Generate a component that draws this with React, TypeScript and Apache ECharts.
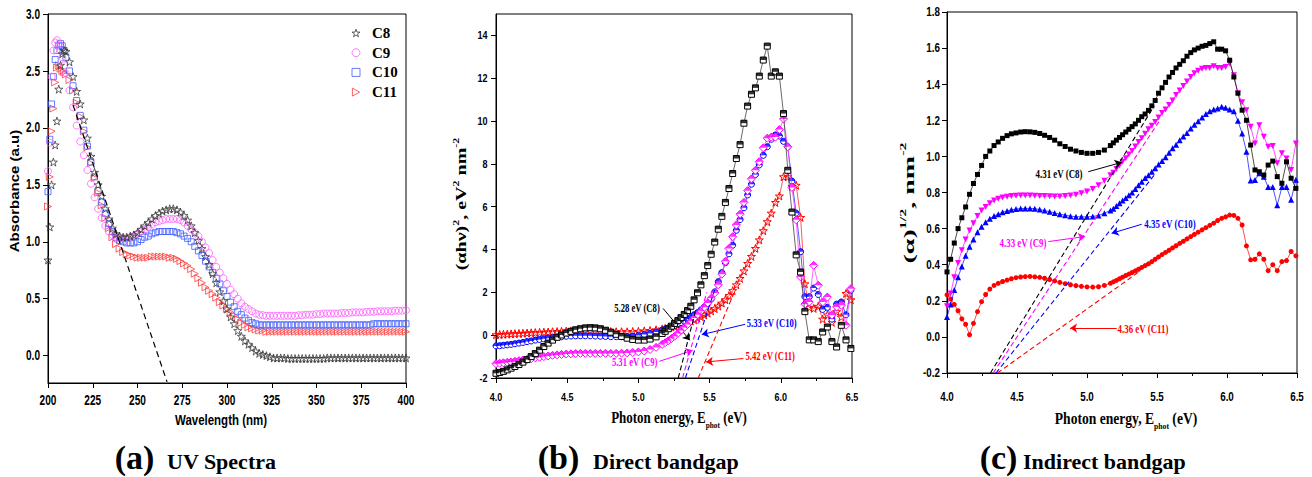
import { useEffect, useRef } from "react";
import * as echarts from "echarts";

const SANS = "'Liberation Sans', Arial, Helvetica, sans-serif";
const SERIF = "'Liberation Serif', 'Times New Roman', Times, serif";

// ---------- (a) UV absorption spectra ----------
const wavelength = [
  200, 201, 202, 203, 204, 205, 206, 207, 208, 209, 210,
  212, 214, 216, 218, 220, 222, 224, 226, 228, 230, 232, 234, 236, 238, 240,
  242, 244, 246, 248, 250, 252, 254, 256, 258, 260, 262, 264, 266, 268, 270,
  272, 274, 276, 278, 280, 282, 284, 286, 288, 290, 292, 294, 296, 298, 300,
  302, 304, 306, 308, 310, 312, 314, 316, 318, 320, 322, 324, 326, 328, 330,
  332, 334, 336, 338, 340, 342, 344, 346, 348, 350, 352, 354, 356, 358, 360,
  362, 364, 366, 368, 370, 372, 374, 376, 378, 380, 382, 384, 386, 388, 390, 392, 394, 396, 398, 400,
];
const absorbanceC8 = [
  0.84, 1.13, 1.5, 1.7, 1.85, 2.06, 2.34, 2.55, 2.65, 2.68, 2.67,
  2.58, 2.45, 2.32, 2.21, 2.07, 1.91, 1.75, 1.61, 1.5, 1.4, 1.29, 1.2, 1.12, 1.07, 1.05,
  1.04, 1.04, 1.05, 1.06, 1.08, 1.11, 1.14, 1.17, 1.2, 1.23, 1.25, 1.27, 1.28, 1.29, 1.29,
  1.28, 1.26, 1.23, 1.19, 1.14, 1.08, 1.01, 0.94, 0.87, 0.8, 0.72, 0.64, 0.56, 0.48, 0.41,
  0.34, 0.28, 0.22, 0.17, 0.13, 0.1, 0.07, 0.04, 0.02, 0.01, 0, -0.01, -0.02, -0.02, -0.02,
  -0.02, -0.025, -0.025, -0.025, -0.025, -0.025, -0.025, -0.025, -0.025, -0.025, -0.025, -0.025, -0.02, -0.02, -0.02,
  -0.02, -0.02, -0.02, -0.02, -0.02, -0.02, -0.02, -0.02, -0.02, -0.02, -0.02, -0.02, -0.02, -0.02, -0.02, -0.02, -0.02, -0.02, -0.02, -0.02,
];
const absorbanceC9 = [
  1.62, 1.87, 2.45, 2.68, 2.75, 2.77, 2.74, 2.68, 2.62, 2.55, 2.48,
  2.33, 2.18, 2.02, 1.88, 1.76, 1.63, 1.51, 1.39, 1.29, 1.21, 1.14, 1.09, 1.06, 1.04, 1.03,
  1.03, 1.03, 1.04, 1.05, 1.07, 1.09, 1.11, 1.13, 1.15, 1.17, 1.18, 1.19, 1.2, 1.2, 1.2,
  1.2, 1.19, 1.17, 1.14, 1.11, 1.08, 1.05, 1.0, 0.95, 0.9, 0.84, 0.78, 0.73, 0.68, 0.63,
  0.58, 0.54, 0.5, 0.46, 0.43, 0.41, 0.39, 0.37, 0.36, 0.355, 0.35, 0.35, 0.35, 0.35, 0.35,
  0.35, 0.35, 0.35, 0.35, 0.355, 0.355, 0.36, 0.36, 0.36, 0.365, 0.365, 0.37, 0.37, 0.37, 0.37,
  0.37, 0.375, 0.375, 0.375, 0.38, 0.38, 0.38, 0.38, 0.385, 0.385, 0.385, 0.39, 0.39, 0.39, 0.39, 0.39, 0.395, 0.395, 0.395, 0.4,
];
const absorbanceC10 = [
  1.44, 1.9, 2.21, 2.45, 2.6, 2.68, 2.72, 2.74, 2.72, 2.68, 2.62,
  2.5, 2.37, 2.24, 2.11, 1.98, 1.84, 1.7, 1.57, 1.45, 1.35, 1.25, 1.16, 1.09, 1.04, 1.01,
  1.0, 0.99, 0.99, 0.99, 1.0, 1.02, 1.04, 1.05, 1.07, 1.08, 1.09, 1.09, 1.09, 1.09, 1.09,
  1.08, 1.07, 1.05, 1.03, 1.0, 0.96, 0.92, 0.88, 0.83, 0.78, 0.73, 0.68, 0.63, 0.57, 0.52,
  0.47, 0.43, 0.39, 0.36, 0.33, 0.31, 0.29, 0.28, 0.27, 0.27, 0.27, 0.27, 0.27, 0.27, 0.27,
  0.27, 0.27, 0.27, 0.27, 0.27, 0.27, 0.27, 0.27, 0.27, 0.27, 0.27, 0.27, 0.27, 0.27, 0.27,
  0.27, 0.27, 0.27, 0.27, 0.27, 0.27, 0.27, 0.27, 0.27, 0.27, 0.28, 0.28, 0.28, 0.28, 0.28, 0.28, 0.28, 0.28, 0.28, 0.28,
];
const absorbanceC11 = [
  1.31, 1.57, 1.97, 2.17, 2.4, 2.53, 2.55, 2.52, 2.5, 2.49, 2.47,
  2.42, 2.33, 2.22, 2.1, 1.97, 1.83, 1.69, 1.56, 1.43, 1.32, 1.21, 1.12, 1.04, 0.98, 0.94,
  0.91, 0.89, 0.88, 0.87, 0.86, 0.86, 0.86, 0.86, 0.87, 0.87, 0.87, 0.87, 0.87, 0.86, 0.86,
  0.85, 0.83, 0.81, 0.79, 0.76, 0.72, 0.68, 0.64, 0.6, 0.57, 0.54, 0.51, 0.47, 0.44, 0.41,
  0.38, 0.35, 0.32, 0.29, 0.27, 0.25, 0.24, 0.23, 0.22, 0.22, 0.21, 0.21, 0.21, 0.21, 0.21,
  0.21, 0.21, 0.21, 0.21, 0.21, 0.21, 0.21, 0.21, 0.21, 0.21, 0.21, 0.21, 0.21, 0.21, 0.21,
  0.21, 0.21, 0.21, 0.21, 0.21, 0.21, 0.21, 0.21, 0.21, 0.21, 0.21, 0.21, 0.21, 0.21, 0.21, 0.21, 0.21, 0.21, 0.21, 0.21,
];
// absorption-edge extrapolation
const uvEdgeFit = [[214, 2.2], [266.5, -0.23]];

// ---------- (b) / (c) photon energy grid (eV) ----------
const photonEnergy = [
  4.0, 4.026, 4.052, 4.079, 4.106, 4.133, 4.161, 4.189, 4.218, 4.247, 4.276, 4.306,
  4.336, 4.366, 4.397, 4.429, 4.46, 4.493, 4.526, 4.559, 4.593, 4.627, 4.662, 4.697,
  4.733, 4.769, 4.806, 4.844, 4.882, 4.921, 4.96, 5.0, 5.041, 5.082, 5.124, 5.167,
  5.188, 5.21, 5.232, 5.254, 5.277, 5.299, 5.322, 5.345, 5.368, 5.391,
  5.415, 5.439, 5.463, 5.487, 5.511, 5.536, 5.561, 5.586, 5.611, 5.636,
  5.662, 5.688, 5.714, 5.741, 5.767, 5.794, 5.822, 5.849, 5.877, 5.905,
  5.933, 5.962, 5.99, 6.019, 6.049, 6.078, 6.108, 6.139, 6.169, 6.2,
  6.231, 6.263, 6.294, 6.327, 6.359, 6.392, 6.425, 6.458, 6.492,
];

// (b) (alpha h nu)^2
const directC8 = [
  -1.78, -1.74, -1.69, -1.62, -1.54, -1.46, -1.37, -1.26, -1.14, -1.0, -0.86, -0.7,
  -0.53, -0.37, -0.23, -0.1, 0.01, 0.1, 0.18, 0.25, 0.3, 0.34, 0.35, 0.34,
  0.3, 0.23, 0.14, 0.04, -0.06, -0.14, -0.2, -0.23, -0.23, -0.18, -0.08, 0.08,
  0.18, 0.3, 0.42, 0.55, 0.68, 0.82, 0.97, 1.15, 1.35, 1.65,
  1.98, 2.35, 2.78, 3.25, 3.78, 4.35, 4.95, 5.55, 6.2, 6.85,
  7.55, 8.25, 8.9, 9.9, 10.7, 11.25, 11.55, 12.1, 12.85, 13.5,
  12.1, 12.3, 12.1, 10.35, 7.7, 5.75, 3.75, 2.95, 1.1, -0.22,
  -0.22, -0.3, 0.15, 0.38, -0.3, -0.55, 0.46, -0.22, -0.62,
];
const directC9 = [
  -1.33, -1.31, -1.29, -1.27, -1.25, -1.22, -1.19, -1.16, -1.13, -1.1, -1.06, -1.03,
  -1.0, -0.97, -0.94, -0.92, -0.9, -0.88, -0.87, -0.86, -0.85, -0.85, -0.85, -0.85,
  -0.85, -0.85, -0.85, -0.85, -0.84, -0.83, -0.81, -0.78, -0.74, -0.67, -0.57, -0.43,
  -0.35, -0.26, -0.16, -0.05, 0.08, 0.22, 0.36, 0.5, 0.65, 0.8,
  0.95, 1.12, 1.3, 1.5, 1.72, 1.97, 2.35, 2.85, 3.45, 4.05,
  4.6, 5.15, 5.65, 6.2, 6.75, 7.3, 7.7, 8.1, 8.75, 9.2,
  9.25, 9.25, 9.6, 10.1, 8.8, 6.9, 5.39, 2.72, 1.45, 1.55,
  3.26, 2.33, 1.55, 1.78, 0.93, 1.32, 1.4, 0.46, 2.17,
];
const directC10 = [
  -0.5, -0.49, -0.47, -0.45, -0.43, -0.4, -0.37, -0.34, -0.3, -0.27, -0.23, -0.2,
  -0.17, -0.14, -0.11, -0.09, -0.07, -0.05, -0.04, -0.03, -0.03, -0.03, -0.03, -0.04,
  -0.05, -0.06, -0.07, -0.07, -0.07, -0.06, -0.04, -0.01, 0.03, 0.08, 0.15, 0.24,
  0.28, 0.33, 0.39, 0.45, 0.52, 0.59, 0.66, 0.74, 0.84, 0.95,
  1.05, 1.18, 1.32, 1.47, 1.68, 2.02, 2.5, 2.92, 3.38, 3.8,
  4.2, 4.9, 5.4, 5.95, 6.55, 7.05, 7.5, 7.95, 8.4, 8.8,
  9.15, 9.35, 9.3, 9.05, 8.8, 7.2, 5.7, 3.9, 1.8, 1.8,
  2.2, 1.9, 1.2, 1.3, 0.75, 1.45, 1.55, 0.95, 2.1,
];
const directC11 = [
  0.02, 0.03, 0.04, 0.05, 0.06, 0.07, 0.08, 0.09, 0.1, 0.11, 0.12, 0.13,
  0.14, 0.15, 0.16, 0.17, 0.18, 0.19, 0.2, 0.21, 0.21, 0.21, 0.21, 0.2,
  0.19, 0.18, 0.17, 0.16, 0.16, 0.16, 0.17, 0.18, 0.2, 0.22, 0.25, 0.29,
  0.32, 0.35, 0.38, 0.42, 0.46, 0.5, 0.55, 0.6, 0.66, 0.72,
  0.79, 0.86, 0.94, 1.03, 1.13, 1.24, 1.36, 1.5, 1.66, 1.85,
  2.08, 2.35, 2.65, 3.0, 3.35, 3.68, 4.05, 4.45, 4.88, 5.3,
  5.7, 6.2, 6.5, 7.4, 7.4, 6.95, 7.0, 5.5, 2.4, 1.3,
  1.25, 1.35, 0.75, 0.95, 0.6, 1.1, 0.85, 1.95, 1.65,
];
// direct band gaps (eV) and the upper end of each extrapolated line
const directGap = [5.28, 5.31, 5.33, 5.42];
const directFitEnd = [[5.4, 1.1], [5.48, 2.0], [5.54, 2.2], [5.67, 1.95]];

// (c) alpha^(1/2)
const indirectC8 = [
  0.36, 0.43, 0.52, 0.6, 0.66, 0.72, 0.79, 0.85, 0.9, 0.95, 1.0, 1.03,
  1.06, 1.08, 1.1, 1.115, 1.125, 1.13, 1.135, 1.137, 1.136, 1.133, 1.127, 1.117,
  1.105, 1.09, 1.07, 1.055, 1.04, 1.03, 1.022, 1.017, 1.017, 1.022, 1.035, 1.06,
  1.075, 1.09, 1.105, 1.12, 1.135, 1.15, 1.165, 1.18, 1.2, 1.22,
  1.235, 1.255, 1.28, 1.31, 1.35, 1.38, 1.41, 1.44, 1.465, 1.49,
  1.51, 1.53, 1.555, 1.575, 1.59, 1.6, 1.61, 1.615, 1.625, 1.635,
  1.594, 1.594, 1.585, 1.533, 1.44, 1.35, 1.256, 1.2, 1.063, 0.925,
  0.915, 0.897, 0.952, 0.974, 0.888, 0.851, 0.97, 0.879, 0.823,
];
const indirectC9 = [
  0.17, 0.24, 0.33, 0.41, 0.48, 0.54, 0.59, 0.63, 0.67, 0.7, 0.72, 0.74,
  0.755, 0.765, 0.772, 0.777, 0.78, 0.782, 0.783, 0.783, 0.783, 0.782, 0.781, 0.78,
  0.779, 0.778, 0.778, 0.78, 0.783, 0.788, 0.796, 0.806, 0.82, 0.84, 0.865, 0.895,
  0.91, 0.93, 0.95, 0.97, 0.99, 1.01, 1.03, 1.055, 1.08, 1.1,
  1.125, 1.15, 1.17, 1.19, 1.215, 1.24, 1.26, 1.285, 1.31, 1.34,
  1.365, 1.39, 1.415, 1.44, 1.46, 1.475, 1.485, 1.49, 1.49, 1.5,
  1.49, 1.49, 1.495, 1.515, 1.45, 1.35, 1.3, 1.256, 1.164, 1.072,
  1.173, 1.109, 1.053, 1.057, 0.962, 1.017, 0.989, 0.924, 1.072,
];
const indirectC10 = [
  0.11, 0.18, 0.26, 0.33, 0.39, 0.45, 0.5, 0.54, 0.58, 0.61, 0.635, 0.655,
  0.67, 0.68, 0.69, 0.698, 0.704, 0.708, 0.711, 0.712, 0.712, 0.71, 0.706, 0.7,
  0.694, 0.687, 0.68, 0.674, 0.669, 0.666, 0.665, 0.665, 0.667, 0.673, 0.685, 0.7,
  0.71, 0.725, 0.74, 0.755, 0.77, 0.785, 0.8, 0.82, 0.84, 0.86,
  0.88, 0.895, 0.915, 0.935, 0.955, 0.975, 0.995, 1.02, 1.045, 1.065,
  1.09, 1.11, 1.13, 1.155, 1.175, 1.195, 1.215, 1.235, 1.25, 1.26,
  1.265, 1.275, 1.27, 1.26, 1.25, 1.197, 1.127, 1.026, 0.866, 0.869,
  0.906, 0.887, 0.83, 0.83, 0.73, 0.83, 0.83, 0.76, 0.87,
];
const indirectC11 = [
  0.233, 0.21, 0.18, 0.145, 0.1, 0.07, 0.012, 0.075, 0.14, 0.195, 0.235, 0.265,
  0.285, 0.297, 0.307, 0.315, 0.322, 0.328, 0.332, 0.334, 0.335, 0.333, 0.33, 0.325,
  0.318, 0.31, 0.302, 0.295, 0.289, 0.284, 0.28, 0.277, 0.276, 0.278, 0.285, 0.297,
  0.305, 0.313, 0.322, 0.331, 0.34, 0.348, 0.357, 0.366, 0.375, 0.385,
  0.395, 0.405, 0.417, 0.43, 0.443, 0.456, 0.468, 0.48, 0.493, 0.505,
  0.518, 0.53, 0.543, 0.556, 0.568, 0.58, 0.593, 0.605, 0.618, 0.63,
  0.645, 0.657, 0.665, 0.675, 0.673, 0.657, 0.62, 0.504, 0.427, 0.43,
  0.46, 0.43, 0.367, 0.4, 0.367, 0.417, 0.423, 0.473, 0.449,
];
// indirect band gaps (eV) and the upper end of each extrapolated line
const indirectGap = [4.31, 4.33, 4.35, 4.36];
const indirectFitEnd = [[5.48, 1.28], [5.52, 1.2], [5.49, 0.906], [5.37, 0.36]];

// ---------- ticks ----------
const uvTicksX = [200, 225, 250, 275, 300, 325, 350, 375, 400];
const uvTicksY = [0, 0.5, 1, 1.5, 2, 2.5, 3];
const energyTicks = [4, 4.5, 5, 5.5, 6, 6.5];
const directTicksY = [-2, 0, 2, 4, 6, 8, 10, 12, 14];
const indirectTicksY = [-0.2, 0, 0.2, 0.4, 0.6, 0.8, 1, 1.2, 1.4, 1.6, 1.8];

const samples = ["C8", "C9", "C10", "C11"];

// ---------- look ----------
const STAR = "path://M10,0 L12.4,7.2 L20,7.3 L13.9,11.8 L16.2,19 L10,14.6 L3.8,19 L6.1,11.8 L0,7.3 L7.6,7.2 Z";
const TRI_RIGHT = "path://M0,0 L18,10 L0,20 Z";
const SEMI = "path://M0,10 A10,10 0 0 1 20,10 Z";
const CLEAR = "rgba(255,255,255,0)";
const INK = ["#000000", "#ff00ff", "#0000ff", "#ff0000"];

const uvLook = [
  { symbol: STAR, size: 8, color: "#3a3a3a" },
  { symbol: "circle", size: 7, color: "#ff5cff" },
  { symbol: "rect", size: 6, color: "#3f5bff" },
  { symbol: TRI_RIGHT, size: 7, color: "#ff3c3c" },
];
const directLook = [
  { symbol: "rect", size: 6, half: "rect", line: "#444444" },
  { symbol: "diamond", size: 8, half: "triangle", line: "#ff40ff" },
  { symbol: "circle", size: 6, half: SEMI, line: "#3030ff" },
  { symbol: STAR, size: 8, half: null, line: "#ff3030" },
];
const indirectLook = [
  { symbol: "rect", size: 5, rotate: 0 },
  { symbol: "triangle", size: 6, rotate: 180 },
  { symbol: "triangle", size: 6, rotate: 0 },
  { symbol: "circle", size: 5, rotate: 0 },
];

// annotation placement in data coordinates: label centre, arrow tail, arrow head
const directNotes = [
  { at: [4.99, 1.29], from: [5.173, 1.25], to: [5.362, -0.24] },
  { at: [4.974, -1.27], from: [5.147, -1.22], to: [5.381, -0.707] },
  { at: [5.936, 0.55], from: [5.749, 0.507], to: [5.445, 0.026] },
  { at: [5.926, -0.99], from: [5.737, -1.09], to: [5.475, -1.25] },
];
const indirectNotes = [
  { at: [4.8, 0.903], from: [5.009, 0.915], to: [5.248, 0.967] },
  { at: [4.543, 0.521], from: [4.724, 0.528], to: [4.986, 0.556] },
  { at: [5.593, 0.626], from: [5.391, 0.624], to: [5.176, 0.574] },
  { at: [5.4, 0.045], from: [5.212, 0.049], to: [4.879, 0.049] },
];

const GRIDS = [
  { left: 48, top: 14, width: 358, height: 369 },
  { left: 496, top: 14, width: 356, height: 364 },
  { left: 947, top: 12, width: 350, height: 361 },
];

const zip = (xs: number[], ys: number[]) => xs.map((x, i) => [x, ys[i]]);

function buildOption() {
  const axisLine = { show: true, onZero: false, lineStyle: { color: "#000", width: 1 } };
  const tick = (extra: any = {}) => ({ show: true, inside: false, length: 5, lineStyle: { color: "#000", width: 1 }, ...extra });
  const base = { type: "value", axisLine, splitLine: { show: false }, axisLabel: { show: false } };
  const minor = { show: true, splitNumber: 2, length: 3, lineStyle: { color: "#000", width: 1 } };

  const xAxis = [
    { ...base, gridIndex: 0, min: 200, max: 400, interval: 25, axisTick: tick({ customValues: uvTicksX }) },
    { ...base, gridIndex: 1, min: 4, max: 6.5, interval: 0.5, axisTick: tick(), minorTick: minor },
    { ...base, gridIndex: 2, min: 4, max: 6.5, interval: 0.5, axisTick: tick(), minorTick: minor },
  ];
  const yAxis = [
    { ...base, gridIndex: 0, min: -0.24, max: 3, axisTick: tick({ customValues: uvTicksY }) },
    { ...base, gridIndex: 1, min: -2, max: 15, interval: 2, axisTick: tick({ customValues: directTicksY }) },
    { ...base, gridIndex: 2, min: -0.2, max: 1.8, interval: 0.2, axisTick: tick({ customValues: indirectTicksY }) },
  ];

  const series: any[] = [];

  // (a)
  const uvValues = [absorbanceC8, absorbanceC9, absorbanceC10, absorbanceC11];
  for (let k = 3; k >= 0; k--) {
    const lk = uvLook[k];
    series.push({
      type: "scatter", name: samples[k], xAxisIndex: 0, yAxisIndex: 0, silent: true,
      data: zip(wavelength, uvValues[k]), symbol: lk.symbol, symbolSize: lk.size,
      itemStyle: { color: CLEAR, borderColor: lk.color, borderWidth: 1 }, z: 2 + (3 - k),
    });
  }
  series.push({
    type: "line", name: "edge", xAxisIndex: 0, yAxisIndex: 0, silent: true, data: uvEdgeFit,
    symbol: "none", lineStyle: { color: "#000", width: 1.2, type: [6, 4] }, z: 10,
  });

  // (b)
  const directValues = [directC8, directC9, directC10, directC11];
  for (let k = 3; k >= 0; k--) {
    const lk = directLook[k];
    const data = zip(photonEnergy, directValues[k]);
    const z = 2 + (3 - k) * 2;
    series.push({
      type: "line", name: samples[k] + " (αhν)²", xAxisIndex: 1, yAxisIndex: 1, silent: true, data,
      symbol: lk.symbol, symbolSize: lk.size, showAllSymbol: true,
      itemStyle: { color: k === 3 ? CLEAR : "#ffffff", borderColor: INK[k], borderWidth: 1 },
      lineStyle: { color: lk.line, width: 0.8 }, z,
    });
    if (lk.half) {
      series.push({
        type: "scatter", name: samples[k] + " (αhν)² half", xAxisIndex: 1, yAxisIndex: 1, silent: true, data,
        symbol: lk.half, symbolSize: [lk.size, lk.size / 2], symbolOffset: [0, -lk.size / 4],
        itemStyle: { color: INK[k] }, z: z + 1,
      });
    }
  }
  for (let k = 0; k < 4; k++) {
    const note = directNotes[k];
    series.push({
      type: "line", name: samples[k] + " direct fit", xAxisIndex: 1, yAxisIndex: 1, silent: true,
      data: [[directGap[k], -2], directFitEnd[k]], symbol: "none",
      lineStyle: { color: INK[k], width: 1.1, type: [5, 3] }, z: 20,
      markLine: {
        silent: true, symbol: ["none", "arrow"], symbolSize: 7, label: { show: false },
        lineStyle: { color: INK[k], width: 1, type: "solid" },
        data: [[{ coord: note.from }, { coord: note.to }]],
      },
    });
  }

  // (c)
  const indirectValues = [indirectC8, indirectC9, indirectC10, indirectC11];
  for (let k = 3; k >= 0; k--) {
    const lk = indirectLook[k];
    series.push({
      type: "line", name: samples[k] + " α½", xAxisIndex: 2, yAxisIndex: 2, silent: true,
      data: zip(photonEnergy, indirectValues[k]), symbol: lk.symbol, symbolSize: lk.size,
      symbolRotate: lk.rotate, showAllSymbol: true,
      itemStyle: { color: INK[k] }, lineStyle: { color: INK[k], width: 0.7 }, z: 2 + (3 - k),
    });
  }
  for (let k = 0; k < 4; k++) {
    const note = indirectNotes[k];
    series.push({
      type: "line", name: samples[k] + " indirect fit", xAxisIndex: 2, yAxisIndex: 2, silent: true,
      data: [[indirectGap[k], -0.2], indirectFitEnd[k]], symbol: "none",
      lineStyle: { color: INK[k], width: 1.1, type: [5, 3] }, z: 20,
      markLine: {
        silent: true, symbol: ["none", "arrow"], symbolSize: 7, label: { show: false },
        lineStyle: { color: INK[k], width: 1, type: "solid" },
        data: [[{ coord: note.from }, { coord: note.to }]],
      },
    });
  }

  return {
    animation: false,
    backgroundColor: "#ffffff",
    grid: GRIDS.map((g) => ({ ...g, show: true, borderColor: "#000", borderWidth: 1, backgroundColor: "transparent" })),
    xAxis,
    yAxis,
    legend: {
      data: samples.map((name, k) => ({
        name,
        itemStyle: { color: CLEAR, borderColor: uvLook[k].color, borderWidth: 1 },
      })),
      orient: "vertical", left: 351.5, top: 25.5, padding: 0,
      itemWidth: 8, itemHeight: 8, itemGap: 4.7, selectedMode: false,
      textStyle: { fontFamily: SERIF, fontWeight: "bold", fontSize: 15, color: "#000", lineHeight: 15, padding: [0, 0, 0, 7] },
    },
    series,
  };
}

type TextOpt = {
  x: number; y: number; text: string; size: number; family: string; color?: string;
  align?: string; sx?: number; sy?: number; rot?: number; rich?: any; lineHeight?: number;
};
function label(o: TextOpt) {
  const align = o.align ?? "center";
  return {
    type: "text", x: o.x, y: o.y, rotation: o.rot ?? 0, scaleX: o.sx ?? 1, scaleY: o.sy ?? 1,
    silent: true, z: 100,
    style: {
      text: o.text, fill: o.color ?? "#000", fontSize: o.size, fontFamily: o.family, fontWeight: "bold",
      align, textAlign: align, verticalAlign: "middle", textVerticalAlign: "middle",
      rich: o.rich, lineHeight: o.lineHeight,
    },
  };
}

function buildGraphics(chart: any) {
  const px = (g: number, x: number, y: number) => chart.convertToPixel({ gridIndex: g }, [x, y]);
  const out: any[] = [];

  // tick labels
  uvTicksX.forEach((v) => out.push(label({ x: px(0, v, 0)[0], y: 400, text: String(v), size: 14, family: SANS, sx: 0.72 })));
  uvTicksY.forEach((v) => out.push(label({ x: 40, y: px(0, 200, v)[1], text: v.toFixed(1), size: 14, family: SANS, sx: 0.72, align: "right" })));
  energyTicks.forEach((v) => out.push(label({ x: px(1, v, 0)[0], y: 397, text: v.toFixed(1), size: 11, family: SANS, sx: 0.82 })));
  directTicksY.forEach((v) => out.push(label({ x: 487.5, y: px(1, 4, v)[1], text: String(v), size: 11, family: SANS, sx: 0.82, align: "right" })));
  energyTicks.forEach((v) => out.push(label({ x: px(2, v, 0)[0], y: 397, text: v.toFixed(1), size: 12, family: SANS, sx: 0.82 })));
  indirectTicksY.forEach((v) => out.push(label({ x: 940, y: px(2, 4, v)[1], text: v.toFixed(1), size: 12, family: SANS, sx: 0.82, align: "right" })));

  // axis titles
  out.push(label({ x: 221, y: 420, text: "Wavelength (nm)", size: 14, family: SANS, sx: 0.82 }));
  out.push(label({ x: 15, y: 191, text: "Absorbance (a.u)", size: 15, family: SANS, rot: Math.PI / 2, sx: 1.0, sy: 0.8 }));

  const energyRich = {
    m: { fontSize: 16, fontFamily: SERIF, fontWeight: "bold", fill: "#000" },
    b: { fontSize: 9, fontFamily: SERIF, fontWeight: "bold", fill: "#000", verticalAlign: "bottom" },
  };
  const energyTitle = "{m|Photon energy, E}{b|phot}{m| (eV)}";
  out.push(label({ x: 679, y: 418, text: energyTitle, size: 16, family: SERIF, sx: 0.81, rich: energyRich, lineHeight: 24 }));
  out.push(label({ x: 1126, y: 419, text: energyTitle, size: 16, family: SERIF, sx: 0.85, rich: energyRich, lineHeight: 24 }));

  out.push(label({
    x: 461.5, y: 204, text: "{m|(αhν)}{s|2}{m|, eV}{s|2}{m| nm}{s|-2}", size: 20, family: SERIF,
    rot: Math.PI / 2, sx: 1.0, sy: 0.72, lineHeight: 26,
    rich: {
      m: { fontSize: 20, fontFamily: SERIF, fontWeight: "bold", fill: "#000" },
      s: { fontSize: 12, fontFamily: SERIF, fontWeight: "bold", fill: "#000", verticalAlign: "top" },
    },
  }));
  out.push(label({
    x: 908.5, y: 203, text: "{m|(α)}{s|1/2}{m|, nm}{s|-2}", size: 28, family: SERIF,
    rot: Math.PI / 2, sx: 1.0, sy: 0.55, lineHeight: 36,
    rich: {
      m: { fontSize: 28, fontFamily: SERIF, fontWeight: "bold", fill: "#000" },
      s: { fontSize: 16, fontFamily: SERIF, fontWeight: "bold", fill: "#000", verticalAlign: "top" },
    },
  }));

  // band-gap labels
  directNotes.forEach((n, k) => {
    const [x, y] = px(1, n.at[0], n.at[1]);
    out.push(label({ x, y, text: `${directGap[k].toFixed(2)} eV (${samples[k]})`, size: 12, family: SERIF, color: INK[k], sx: 0.72 }));
  });
  indirectNotes.forEach((n, k) => {
    const [x, y] = px(2, n.at[0], n.at[1]);
    out.push(label({ x, y, text: `${indirectGap[k].toFixed(2)} eV (${samples[k]})`, size: 12, family: SERIF, color: INK[k], sx: 0.74 }));
  });

  // panel captions
  const captions = [
    { tag: "(a)", cx: 134.5, name: "UV Spectra", left: 167 },
    { tag: "(b)", cx: 558.5, name: "Direct bandgap", left: 593 },
    { tag: "(c)", cx: 998.5, name: "Indirect bandgap", left: 1023 },
  ];
  captions.forEach((c) => {
    out.push(label({ x: c.cx, y: 457, text: c.tag, size: 34, family: SERIF }));
    out.push(label({ x: c.left, y: 461, text: c.name, size: 22, family: SERIF, align: "left" }));
  });

  return out;
}

export default function App() {
  const ref = useRef<HTMLDivElement>(null);
  useEffect(() => {
    const el = ref.current;
    if (!el) return;
    const chart = echarts.init(el, undefined, { renderer: "svg", width: 1312, height: 477 });
    chart.setOption(buildOption() as any);
    chart.setOption({ graphic: buildGraphics(chart) } as any);
    return () => chart.dispose();
  }, []);
  return (
    <div
      ref={ref}
      style={{ position: "absolute", left: 0, top: 0, width: 1312, height: 477, background: "#ffffff" }}
    />
  );
}
